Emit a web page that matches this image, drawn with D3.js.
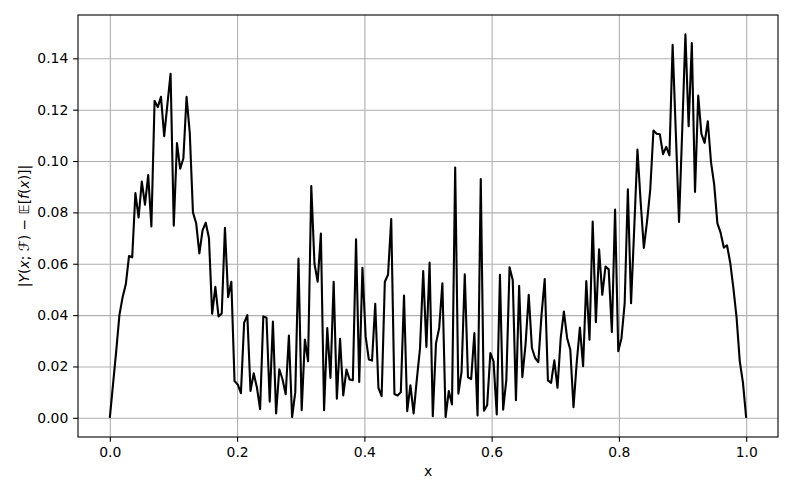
<!DOCTYPE html>
<html>
<head>
<meta charset="utf-8">
<script src="https://cdn.jsdelivr.net/npm/d3@7"></script>
<style>
  body { margin: 0; background: #fff; }
  text { font-family: "DejaVu Sans", sans-serif; }
</style>
</head>
<body>
<div id="canvas"></div>
<script>
// |Y(x;F) - E[f(x)]| sampled on 200 points of [0, 1]
const values = [
    0, 0.013, 0.026, 0.040, 0.047, 0.052, 0.063, 0.0625, 0.0875, 0.078,
    0.092, 0.083, 0.0945, 0.0745, 0.1235, 0.121, 0.125, 0.1097, 0.122, 0.134,
    0.0748, 0.107, 0.097, 0.101, 0.125, 0.111, 0.080, 0.0758, 0.064, 0.073,
    0.076, 0.070, 0.0405, 0.051, 0.0395, 0.0406, 0.074, 0.047, 0.053, 0.0143,
    0.013, 0.0096, 0.037, 0.040, 0.0105, 0.0173, 0.0118, 0.0034, 0.0395, 0.039,
    0.0063, 0.0375, 0.0017, 0.0189, 0.015, 0.0092, 0.032, 0.0003, 0.010, 0.062,
    0.003, 0.0305, 0.022, 0.0903, 0.060, 0.053, 0.0718, 0.003, 0.035, 0.0155,
    0.053, 0.0074, 0.0308, 0.0087, 0.0188, 0.0149, 0.0146, 0.0695, 0.014, 0.0584,
    0.0317, 0.0227, 0.0223, 0.0444, 0.0117, 0.0084, 0.053, 0.0557, 0.0774, 0.0093,
    0.0087, 0.010, 0.0476, 0.0026, 0.0127, 0.0017, 0.0149, 0.027, 0.0572, 0.0276,
    0.0605, 0.0006, 0.029, 0.035, 0.0524, 0.0003, 0.0104, 0.0052, 0.0975, 0.0094,
    0.018, 0.0559, 0.0158, 0.0151, 0.033, 0.0009, 0.093, 0.0028, 0.0049, 0.0252,
    0.022, 0.0013, 0.0557, 0.0032, 0.0149, 0.0586, 0.0537, 0.0069, 0.0514, 0.0158,
    0.0285, 0.0479, 0.0272, 0.0233, 0.0217, 0.0401, 0.054, 0.0146, 0.0136, 0.0224,
    0.0117, 0.0311, 0.0414, 0.0311, 0.0265, 0.0041, 0.0214, 0.0352, 0.0201, 0.0533,
    0.0304, 0.0764, 0.0372, 0.0656, 0.0479, 0.0589, 0.0578, 0.0334, 0.0811, 0.0259,
    0.031, 0.0446, 0.089, 0.0446, 0.074, 0.1045, 0.0841, 0.0662, 0.0765, 0.0889,
    0.1119, 0.1106, 0.1104, 0.1027, 0.1055, 0.1022, 0.1453, 0.111, 0.0763, 0.112,
    0.1494, 0.1136, 0.1459, 0.088, 0.1255, 0.1106, 0.1071, 0.1155, 0.0996, 0.0908,
    0.0757, 0.0721, 0.0663, 0.0672, 0.0605, 0.0505, 0.039, 0.022, 0.0136, 0
];
const xs = d3.range(values.length).map(i => i / (values.length - 1));
const data = xs.map((x, i) => ({ x: x, y: values[i] }));

const xTicks = [0, 0.2, 0.4, 0.6, 0.8, 1.0];
const yTicks = [0, 0.02, 0.04, 0.06, 0.08, 0.10, 0.12, 0.14];

const width = 793;
const height = 496;
const margin = { top: 15, left: 78, bottom: 59, right: 15 };
const iwidth = width - margin.left - margin.right;
const iheight = height - margin.top - margin.bottom;
const tick = 4.86;

const svg = d3.select("#canvas").append("svg")
    .attr("width", width)
    .attr("height", height);

const g = svg.append("g").attr("transform", `translate(${margin.left},${margin.top})`);

// matplotlib style 5% margins
const xExt = d3.extent(xs);
const yExt = d3.extent(values);
const xPad = (xExt[1] - xExt[0]) * 0.05;
const yPad = (yExt[1] - yExt[0]) * 0.05;

const x = d3.scaleLinear()
    .domain([xExt[0] - xPad, xExt[1] + xPad])
    .range([0, iwidth]);

const y = d3.scaleLinear()
    .domain([yExt[0] - yPad, yExt[1] + yPad])
    .range([iheight, 0]);

// grid
g.append("g")
    .attr("class", "grid")
    .attr("transform", `translate(0,${iheight})`)
    .call(d3.axisBottom(x).tickValues(xTicks).tickSize(-iheight).tickFormat(""));
g.append("g")
    .attr("class", "grid")
    .call(d3.axisLeft(y).tickValues(yTicks).tickSize(-iwidth).tickFormat(""));
g.selectAll(".grid .domain").remove();
g.selectAll(".grid line").attr("stroke", "#b0b0b0").attr("stroke-width", 1.1);

// curve
const line = d3.line()
    .x(d => x(d.x))
    .y(d => y(d.y));

g.append("path")
    .datum(data)
    .attr("fill", "none")
    .attr("stroke", "#000")
    .attr("stroke-width", 2.1)
    .attr("stroke-linejoin", "round")
    .attr("d", line);

// axes
const xAxis = g.append("g")
    .attr("transform", `translate(0,${iheight})`)
    .call(d3.axisBottom(x).tickValues(xTicks).tickSize(tick).tickPadding(tick).tickFormat(d3.format(".1f")));
const yAxis = g.append("g")
    .call(d3.axisLeft(y).tickValues(yTicks).tickSize(tick).tickPadding(tick).tickFormat(d3.format(".2f")));

[xAxis, yAxis].forEach(a => {
    a.select(".domain").remove();
    a.selectAll("line").attr("stroke", "#000").attr("stroke-width", 1.1);
    a.selectAll("text")
        .attr("fill", "#000")
        .style("font-family", "DejaVu Sans")
        .style("font-size", "13.9px");
});

g.append("rect")
    .attr("width", iwidth)
    .attr("height", iheight)
    .attr("fill", "none")
    .attr("stroke", "#000")
    .attr("stroke-width", 1.1);

// labels
svg.append("text")
    .attr("x", margin.left + iwidth / 2)
    .attr("y", 476)
    .attr("text-anchor", "middle")
    .style("font-size", "13.9px")
    .text("x");

const yl = svg.append("text")
    .attr("transform", `translate(29,${margin.top + iheight / 2}) rotate(-90)`)
    .attr("text-anchor", "middle")
    .style("font-size", "13.9px");
yl.append("tspan").text("|");
yl.append("tspan").style("font-style", "italic").text("Y");
yl.append("tspan").text("(");
yl.append("tspan").style("font-style", "italic").text("x");
yl.append("tspan").text("; ℱ) − 𝔼[");
yl.append("tspan").style("font-style", "italic").text("f");
yl.append("tspan").text("(");
yl.append("tspan").style("font-style", "italic").text("x");
yl.append("tspan").text(")]|");
</script>
</body>
</html>
